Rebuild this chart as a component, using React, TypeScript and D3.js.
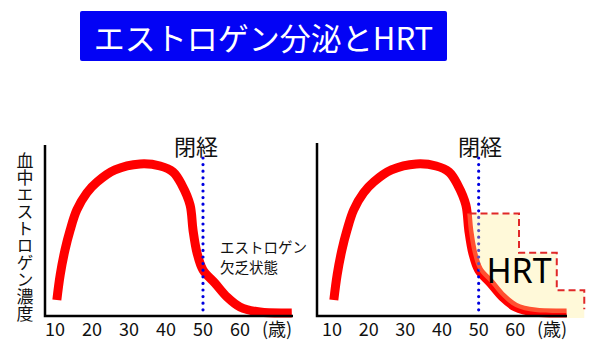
import React from "react";
import * as d3 from "d3";

const TITLE = "エストロゲン分泌とHRT";
const Y_LABEL = "血中エストロゲン濃度";
const TICK_VALUES = [10, 20, 30, 40, 50, 60];
const UNIT_LABEL = "(歳)";
const UNIT_POS = 70;
const MENOPAUSE_AGE = 50;
const MENOPAUSE_LABEL = "閉経";
const DEFICIENCY_LINES = ["エストロゲン", "欠乏状態"];
const HRT_LABEL = "HRT";

// estrogen curve (age, relative level 0-100)
const curveAges = [10.5, 11.4, 12.7, 14.1, 15.9, 18.6, 21.4, 26.2, 33, 38.4, 41.9, 44.3, 46.5, 47.3, 48.4, 50, 53.2, 56.5, 60, 65.4, 74];
const curveLevels = [9.4, 24, 38.6, 50.3, 62, 72, 78.4, 85.4, 88.9, 87.7, 84.2, 76.6, 65, 50.3, 36.8, 26.9, 19.3, 11.1, 5.3, 2.3, 1.8];

// HRT supplementation steps
const hrtStepAges = [47.5, 61, 71.3, 78.8];
const hrtStepLevels = [60, 37, 15];

const FONT = "'Noto Sans CJK JP', 'Noto Sans', sans-serif";

type Chart = {
  id: string;
  range: [number, number];
  axisX: number;
  axisTop: number;
  axisRight: number;
  menoLabelX: number;
  hrt: boolean;
};

const charts: Chart[] = [
  { id: "l", range: [55, 277], axisX: 45, axisTop: 145, axisRight: 293, menoLabelX: 196, hrt: false },
  { id: "r", range: [332, 552], axisX: 317, axisTop: 143, axisRight: 567, menoLabelX: 480, hrt: true },
];

const y = d3.scaleLinear().domain([0, 100]).range([316, 145]);
const points: [number, number][] = curveAges.map((a, i) => [a, curveLevels[i]]);

function ChartView({ c }: { c: Chart }) {
  const x = d3.scaleLinear().domain([10, 70]).range(c.range);
  const line = d3
    .line<[number, number]>()
    .x((d) => x(d[0]))
    .y((d) => y(d[1]))
    .curve(d3.curveCatmullRom.alpha(0.5));
  const curvePath = line(points) || "";

  let hrtEls: React.ReactNode = null;
  if (c.hrt) {
    const [a0, a1, a2, a3] = hrtStepAges;
    const [l0, l1, l2] = hrtStepLevels;
    const bottom = y(-1.2);
    const endPt = points[points.length - 1];
    const sub = points.filter((p) => p[0] >= 38);
    const clipD =
      (line(sub) || "") +
      `L${x(endPt[0])},${bottom}L600,${bottom}L600,0L${x(sub[0][0])},0Z`;
    const fillD = `M${x(a0 - 4)},${y(l0)}L${x(a1)},${y(l0)}L${x(a1)},${y(l1)}L${x(a2)},${y(l1)}L${x(a2)},${y(l2)}L${x(a3)},${y(l2)}L${x(a3)},${bottom}L${x(a0 - 4)},${bottom}Z`;
    const dashD = `M${x(a0)},${y(l0)}L${x(a1)},${y(l0)}L${x(a1)},${y(l1)}L${x(a2)},${y(l1)}L${x(a2)},${y(l2)}L${x(a3)},${y(l2)}L${x(a3)},${y(4)}`;
    hrtEls = (
      <g>
        <defs>
          <clipPath id={`clip-${c.id}`}>
            <path d={clipD} />
          </clipPath>
        </defs>
        <path d={fillD} fill="#FFEC90" fillOpacity={0.34} clipPath={`url(#clip-${c.id})`} />
        <path d={dashD} fill="none" stroke="#E02828" strokeWidth={2} strokeDasharray="7,4" />
        <text x={x(a1)} y={y(19.5)} textAnchor="middle" fontFamily="'Noto Sans', sans-serif" fontSize={34} fill="#000">
          {HRT_LABEL}
        </text>
      </g>
    );
  }

  return (
    <g>
      <path d={curvePath} fill="none" stroke="#FF0000" strokeWidth={9} strokeLinecap="butt" strokeLinejoin="round" />
      <line
        x1={x(MENOPAUSE_AGE)}
        x2={x(MENOPAUSE_AGE)}
        y1={158}
        y2={313}
        stroke="#0000E0"
        strokeWidth={3.2}
        strokeDasharray="0 6.6"
        strokeLinecap="round"
      />
      {hrtEls}
      <path
        d={`M${c.axisX},${c.axisTop}L${c.axisX},${y(0)}L${c.axisRight},${y(0)}`}
        fill="none"
        stroke="#000"
        strokeWidth={2.5}
      />
      {TICK_VALUES.map((t) => (
        <text key={t} x={x(t)} y={336} textAnchor="middle" fontFamily={FONT} fontSize={18} fill="#111">
          {t}
        </text>
      ))}
      <text x={x(UNIT_POS)} y={336} textAnchor="middle" fontFamily={FONT} fontSize={18} fill="#111">
        {UNIT_LABEL}
      </text>
      <text x={c.menoLabelX} y={145} textAnchor="middle" dominantBaseline="central" fontFamily={FONT} fontSize={22} fill="#111">
        {MENOPAUSE_LABEL}
      </text>
    </g>
  );
}

export default function App() {
  return (
    <svg
      width={600}
      height={355}
      style={{ position: "absolute", left: 0, top: 0, background: "#fff" }}
    >
      <rect x={80} y={11} width={367} height={50} rx={2} fill="#0303F5" />
      <text x={263.5} y={36} textAnchor="middle" dominantBaseline="central" fontFamily={FONT} fontSize={31} fill="#fff">
        {TITLE}
      </text>
      <text
        x={25}
        y={152}
        fontFamily={FONT}
        fontSize={17}
        fill="#111"
        style={{ writingMode: "vertical-rl" }}
      >
        {Y_LABEL}
      </text>
      {charts.map((c) => (
        <ChartView key={c.id} c={c} />
      ))}
      {DEFICIENCY_LINES.map((s, i) => (
        <text key={i} x={220} y={246.5 + 20 * i} dominantBaseline="central" fontFamily={FONT} fontSize={14.5} fill="#111">
          {s}
        </text>
      ))}
    </svg>
  );
}
